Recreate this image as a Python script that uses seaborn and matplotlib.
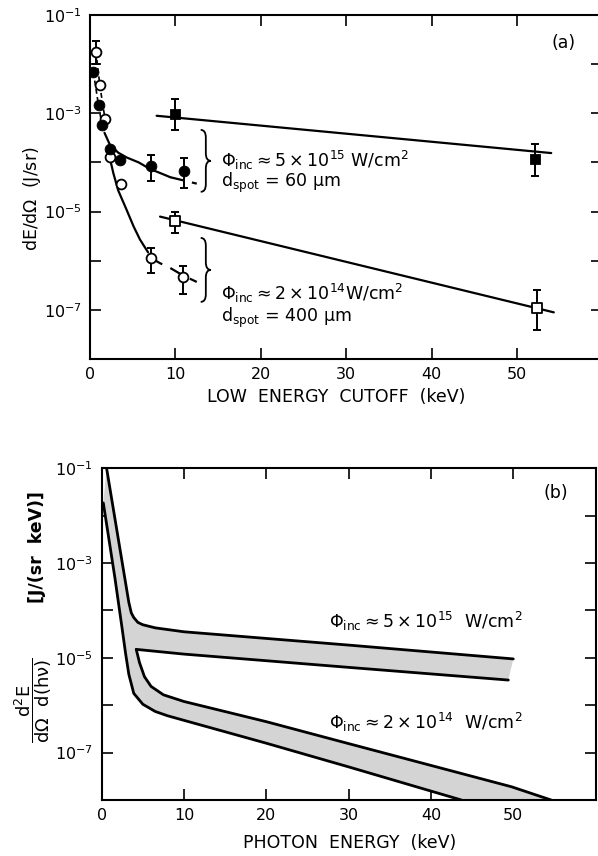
import numpy as np
import matplotlib.pyplot as plt
import matplotlib.ticker as mticker
from matplotlib.path import Path
from matplotlib.patches import PathPatch
import seaborn as sns

sns.set_style('ticks')
plt.rcParams['font.family'] = ['DejaVu Sans']
plt.rcParams['mathtext.fontset'] = 'dejavusans'
plt.rcParams['text.color'] = 'black'

# ---------- panel (a): measured points ----------
closed_circ_x = [0.4, 1.0, 1.4, 2.4, 3.5, 7.1, 11.0]
closed_circ_y = [6.8e-3, 1.45e-3, 5.9e-4, 1.9e-4, 1.12e-4, 8.5e-5, 6.8e-5]
open_circ_x = [0.7, 1.15, 1.75, 2.4, 3.6, 7.1, 10.9]
open_circ_y = [1.8e-2, 3.7e-3, 7.8e-4, 1.3e-4, 3.7e-5, 1.15e-6, 4.7e-7]
closed_sq_x = [9.9, 52.1]
closed_sq_y = [9.8e-4, 1.2e-4]
open_sq_x = [10.0, 52.3]
open_sq_y = [6.5e-6, 1.07e-7]

# error bars: position, value, lower end, upper end
err_x = [7.1, 11.0, 0.7, 7.1, 10.9, 9.9, 52.1, 10.0, 52.3]
err_y = [8.5e-5, 6.8e-5, 1.8e-2, 1.15e-6, 4.7e-7, 9.8e-4, 1.2e-4, 6.5e-6, 1.07e-7]
err_lo = [4.1e-5, 2.95e-5, 1.0e-2, 5.6e-7, 2.1e-7, 4.5e-4, 5.4e-5, 3.7e-6, 3.9e-8]
err_hi = [1.4e-4, 1.23e-4, 2.95e-2, 1.78e-6, 7.9e-7, 1.95e-3, 2.4e-4, 1.0e-5, 2.5e-7]

# ---------- panel (a): fitted curves ----------
fit_hi_x = [1.7, 2.3, 3.3, 4.3, 5.7, 7.0, 8.4, 9.4]
fit_hi_y = [4.0e-4, 2.34e-4, 1.58e-4, 1.26e-4, 1.0e-4, 7.4e-5, 5.9e-5, 5.0e-5]
fit_hi_dash_x = [9.4, 12.5]
fit_hi_dash_y = [5.0e-5, 3.7e-5]
fit_lo_x = [2.4, 2.75, 3.3, 4.3, 5.1, 5.85, 6.8]
fit_lo_y = [1.07e-4, 5.9e-5, 2.7e-5, 1.07e-5, 5.0e-6, 2.7e-6, 1.48e-6]
fit_lo_dash_x = [7.1, 8.2, 9.4, 10.9, 12.5]
fit_lo_dash_y = [1.15e-6, 8.9e-7, 7.1e-7, 5.0e-7, 3.7e-7]
line_hi_x = [7.8, 54.0]
line_hi_y = [8.9e-4, 1.55e-4]
line_lo_x = [8.2, 54.3]
line_lo_y = [7.9e-6, 8.9e-8]

# ---------- panel (b): spectra bands ----------
outer_x = [0.6, 2.0, 3.3, 3.6, 3.9, 4.4, 5.0, 6.5, 10, 20, 30, 50]
outer_y = [1.0e-1, 3.4e-3, 1.48e-4, 8.9e-5, 7.1e-5, 5.6e-5, 5.0e-5, 4.3e-5, 3.55e-5, 2.57e-5, 1.86e-5, 9.5e-6]
band1_low_x = [4.2, 10, 20, 30, 49.4]
band1_low_y = [1.51e-5, 1.2e-5, 8.7e-6, 6.3e-6, 3.4e-6]
band2_up_x = [4.2, 4.6, 5.2, 6.0, 7.5, 10, 20, 30, 49.8, 54.6]
band2_up_y = [1.51e-5, 7.9e-6, 4.0e-6, 2.5e-6, 1.66e-6, 1.2e-6, 4.5e-7, 1.55e-7, 1.9e-8, 1.0e-8]
inner_x = [0.2, 1.6, 2.5, 2.9, 3.3, 3.9, 5.0, 6.5, 8.0, 10, 20, 30, 43.7]
inner_y = [1.86e-2, 5.0e-4, 4.0e-5, 1.26e-5, 4.5e-6, 1.78e-6, 1.05e-6, 7.4e-7, 6.0e-7, 4.8e-7, 1.58e-7, 5.0e-8, 1.0e-8]

decades = [1e-1, 1e-2, 1e-3, 1e-4, 1e-5, 1e-6, 1e-7, 1e-8]


def style_axes(ax):
    ax.set_yscale('log')
    ax.set_xlim(0, 60)
    ax.set_ylim(1e-8, 1e-1)
    ax.xaxis.set_major_locator(mticker.FixedLocator([0, 10, 20, 30, 40, 50]))
    ax.yaxis.set_major_locator(mticker.FixedLocator(decades))
    ax.yaxis.set_minor_locator(mticker.NullLocator())
    labels = [r'$10^{-%d}$' % i if i % 2 == 1 else '' for i in range(1, 9)]
    ax.set_yticklabels(labels)
    ax.tick_params(direction='in', length=8, width=1.2, top=True, right=True,
                   labelsize=11.5, pad=6, colors='black')
    for s in ax.spines.values():
        s.set_linewidth(1.5)
        s.set_color('black')
    ax.set_xlabel('')
    ax.set_ylabel('')


def brace(ax, x0, y0, y1, w=0.02, d=0.022):
    # curly brace "}" in axes fraction coordinates
    ym = (y0 + y1) / 2
    xm = x0 + w / 2
    verts = [(x0, y1), (xm, y1), (xm, y1 - d), (xm, ym + d), (xm, ym), (x0 + w, ym),
             (xm, ym), (xm, ym - d), (xm, y0 + d), (xm, y0), (x0, y0)]
    codes = [Path.MOVETO, Path.CURVE3, Path.CURVE3, Path.LINETO, Path.CURVE3, Path.CURVE3,
             Path.CURVE3, Path.CURVE3, Path.LINETO, Path.CURVE3, Path.CURVE3]
    ax.add_patch(PathPatch(Path(verts, codes), transform=ax.transAxes, fill=False,
                           lw=1.3, edgecolor='black', clip_on=False))


fig = plt.figure(figsize=(5.98, 8.56), dpi=100)
ax1 = fig.add_axes([0.1505, 0.5806, 0.857, 0.4019])
ax2 = fig.add_axes([0.170, 0.0654, 0.826, 0.3875])
ax1.set_yscale('log')
ax2.set_yscale('log')

# ----- panel (a) -----
lw = 1.6
sns.lineplot(x=fit_hi_x, y=fit_hi_y, color='black', lw=lw, ax=ax1, estimator=None, sort=False)
sns.lineplot(x=fit_lo_x, y=fit_lo_y, color='black', lw=lw, ax=ax1, estimator=None, sort=False)
ax1.plot(fit_hi_dash_x, fit_hi_dash_y, color='black', lw=lw, dashes=(6, 4))
ax1.plot(fit_lo_dash_x, fit_lo_dash_y, color='black', lw=lw, dashes=(6, 4))
ax1.plot(line_hi_x, line_hi_y, color='black', lw=lw)
ax1.plot(line_lo_x, line_lo_y, color='black', lw=lw)
# dashed guides through the lowest-energy points
ax1.plot(open_circ_x[:3], open_circ_y[:3], color='black', lw=1.2, dashes=(3, 2))
ax1.plot(closed_circ_x[:3], closed_circ_y[:3], color='black', lw=1.2, dashes=(3, 2))

ax1.errorbar(err_x, err_y, yerr=[np.array(err_y) - np.array(err_lo), np.array(err_hi) - np.array(err_y)],
             fmt='none', ecolor='black', elinewidth=1.4, capsize=3, capthick=1.4, zorder=3)

sns.scatterplot(x=open_circ_x, y=open_circ_y, marker='o', s=50, facecolor='white',
                edgecolor='black', linewidth=1.3, ax=ax1, zorder=4)
sns.scatterplot(x=closed_circ_x, y=closed_circ_y, marker='o', s=60, color='black',
                edgecolor='black', ax=ax1, zorder=5)
sns.scatterplot(x=closed_sq_x, y=closed_sq_y, marker='s', s=55, color='black',
                edgecolor='black', ax=ax1, zorder=5)
sns.scatterplot(x=open_sq_x, y=open_sq_y, marker='s', s=50, facecolor='white',
                edgecolor='black', linewidth=1.3, ax=ax1, zorder=5)

style_axes(ax1)

brace(ax1, 0.216, 0.486, 0.666)
brace(ax1, 0.216, 0.166, 0.352)

txt = dict(fontsize=12.5, color='black', va='center', ha='left')
ax1.text(15.3, 1.1e-4, r'$\Phi_{\rm inc} \approx 5\times10^{15}\ \rm W/cm^2$', **txt)
ax1.text(15.3, 3.8e-5, r'$\rm d_{spot}$ = 60 $\mathrm{\mu}$m', **txt)
ax1.text(15.3, 2.2e-7, r'$\Phi_{\rm inc} \approx 2\times10^{14}\rm W/cm^2$', **txt)
ax1.text(15.3, 6.9e-8, r'$\rm d_{spot}$ = 400 $\mathrm{\mu}$m', **txt)
ax1.text(55.4, 2.75e-2, '(a)', fontsize=12.5, ha='center', va='center')

# ----- panel (b) -----
poly_x = np.concatenate([outer_x, band1_low_x[::-1], band2_up_x, inner_x[::-1]])
poly_y = np.concatenate([outer_y, band1_low_y[::-1], band2_up_y, inner_y[::-1]])
ax2.fill(poly_x, poly_y, facecolor='#d4d4d4', edgecolor='none', zorder=1)
for xs, ys in [(outer_x, outer_y), (band1_low_x, band1_low_y),
               (band2_up_x, band2_up_y), (inner_x, inner_y)]:
    sns.lineplot(x=xs, y=ys, color='black', lw=2.0, ax=ax2, estimator=None, sort=False)

style_axes(ax2)
ax2.text(27.6, 5.8e-5, r'$\Phi_{\rm inc} \approx 5\times10^{15}\ \ \rm W/cm^2$', **txt)
ax2.text(27.6, 4.3e-7, r'$\Phi_{\rm inc} \approx 2\times10^{14}\ \ \rm W/cm^2$', **txt)
ax2.text(55.2, 3.0e-2, '(b)', fontsize=12.5, ha='center', va='center')

# axis labels placed as in the original figure
fig.text(336 / 598, 1 - 397 / 856, 'LOW  ENERGY  CUTOFF  (keV)', fontsize=12.5,
         ha='center', va='center')
fig.text(32 / 598, 1 - 199 / 856, r'dE/d$\Omega$  (J/sr)', fontsize=12.5,
         rotation=90, ha='center', va='center')
fig.text(350 / 598, 1 - 843 / 856, 'PHOTON  ENERGY  (keV)', fontsize=12.5,
         ha='center', va='center')
fig.text(37 / 598, 1 - 547 / 856, '[J/(sr  keV)]', fontsize=12.5, fontweight='bold',
         rotation=90, ha='center', va='center')
fig.text(33 / 598, 1 - 700 / 856,
         r'$\dfrac{\mathrm{d^2E}}{\mathrm{d\Omega\ \ d(h\nu)}}$', fontsize=13,
         rotation=90, ha='center', va='center')

fig.savefig('out.png', dpi=100)
